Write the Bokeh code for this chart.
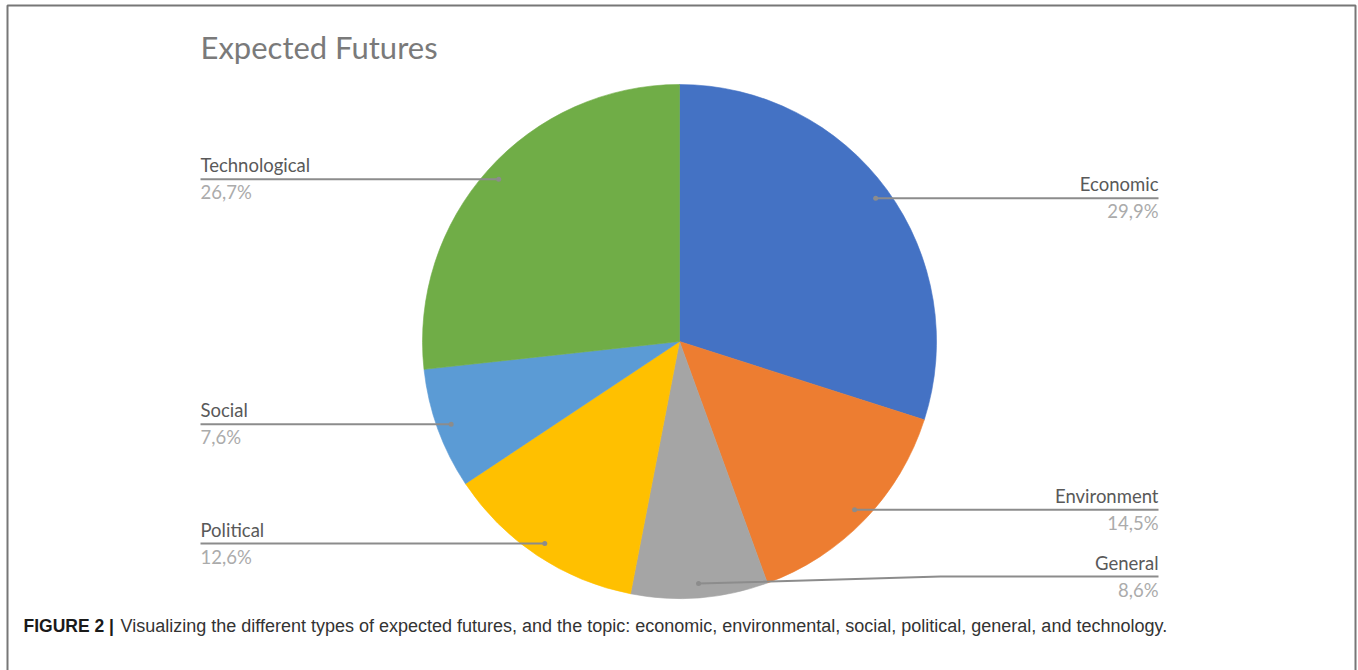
import numpy as np
from bokeh.plotting import figure
from bokeh.models import Range1d, ColumnDataSource
from bokeh.core.properties import value
from bokeh.embed import file_html
from bokeh.resources import INLINE

# ---- data ----
categories = ["Economic", "Environment", "General", "Political", "Social", "Technological"]
shares = [29.9, 14.5, 8.6, 12.6, 7.6, 26.7]
pct_labels = ["29,9%", "14,5%", "8,6%", "12,6%", "7,6%", "26,7%"]
colors = ["#4472C4", "#ED7D31", "#A5A5A5", "#FFC000", "#5B9BD5", "#70AD47"]
title_text = "Expected Futures"
caption_bold = "FIGURE 2 |"
caption_text = ("Visualizing the different types of expected futures, and the topic: economic, "
                "environmental, social, political, general, and technology.")

W, H = 1358, 670
p = figure(width=W, height=H, output_backend="svg", toolbar_location=None,
           x_range=Range1d(0, W), y_range=Range1d(0, H), min_border=0)
p.axis.visible = False
p.grid.visible = False
p.outline_line_color = None
p.background_fill_color = "white"
p.border_fill_color = "white"

def sy(y):
    return H - y

# pie geometry
cx, cy, R = 679, sy(341), 257
vals = np.array(shares, dtype=float)
total = vals.sum()
cum = np.cumsum(vals) / total
prev = np.concatenate([[0.0], cum[:-1]])
start = np.pi / 2 - prev * 2 * np.pi
end = np.pi / 2 - cum * 2 * np.pi
mid = (start + end) / 2

src = ColumnDataSource(dict(start=start, end=end, color=colors, cat=categories))
p.wedge(x=cx, y=cy, radius=R, start_angle="start", end_angle="end", direction="clock",
        fill_color="color", line_color="color", line_width=0.6, source=src)

# leader lines and labels
rd = 0.945 * R
dx = cx + rd * np.cos(mid)
dy = cy + rd * np.sin(mid)
left_x, right_x = 200, 1158
xs, ys = [], []
lab_x, lab_y, align = [], [], []
for i, cat in enumerate(categories):
    is_right = np.cos(mid[i]) > 0 or cat == "General"
    lx = right_x if is_right else left_x
    ly = dy[i]
    if cat == "General":
        ly = dy[i] + 7
        xs.append([dx[i], lx - 218, lx])
        ys.append([dy[i], ly, ly])
    else:
        xs.append([dx[i], lx])
        ys.append([dy[i], ly])
    lab_x.append(lx)
    lab_y.append(ly)
    align.append("right" if is_right else "left")

p.multi_line(xs=xs, ys=ys, line_color="#8c8c8c", line_width=2)
p.scatter(x=dx, y=dy, size=5, fill_color="#8c8c8c", line_color=None)

lsrc = ColumnDataSource(dict(x=lab_x, y_name=[v + 3 for v in lab_y], y_pct=[v - 2 for v in lab_y],
                             name=categories, pct=pct_labels, align=align))
p.text(x="x", y="y_name", text="name", text_align="align", text_baseline="bottom",
       text_font=value("Lato"), text_font_size="18.5px", text_color="#595959", source=lsrc)
p.text(x="x", y="y_pct", text="pct", text_align="align", text_baseline="top",
       text_font=value("Lato"), text_font_size="18.5px", text_color="#ababab", source=lsrc)

# title
p.text(x=[200], y=[sy(46)], text=[title_text], text_align="left", text_baseline="middle",
       text_font=value("Lato"), text_font_size="31px", text_color="#7a7a7a")

# caption
p.text(x=[23], y=[sy(625)], text=[caption_bold], text_align="left", text_baseline="middle",
       text_font=value("Liberation Sans"), text_font_size="17.5px", text_font_style="bold",
       text_color="#1a1a1a")
p.text(x=[120], y=[sy(625)], text=[caption_text], text_align="left", text_baseline="middle",
       text_font=value("Liberation Sans"), text_font_size="18px", text_color="#333333")

# frame
p.line(x=[7, 7, 1355, 1355], y=[0, sy(5), sy(5), 0], line_color="#777777", line_width=2)

open("out.html", "w").write(file_html(p, INLINE))
